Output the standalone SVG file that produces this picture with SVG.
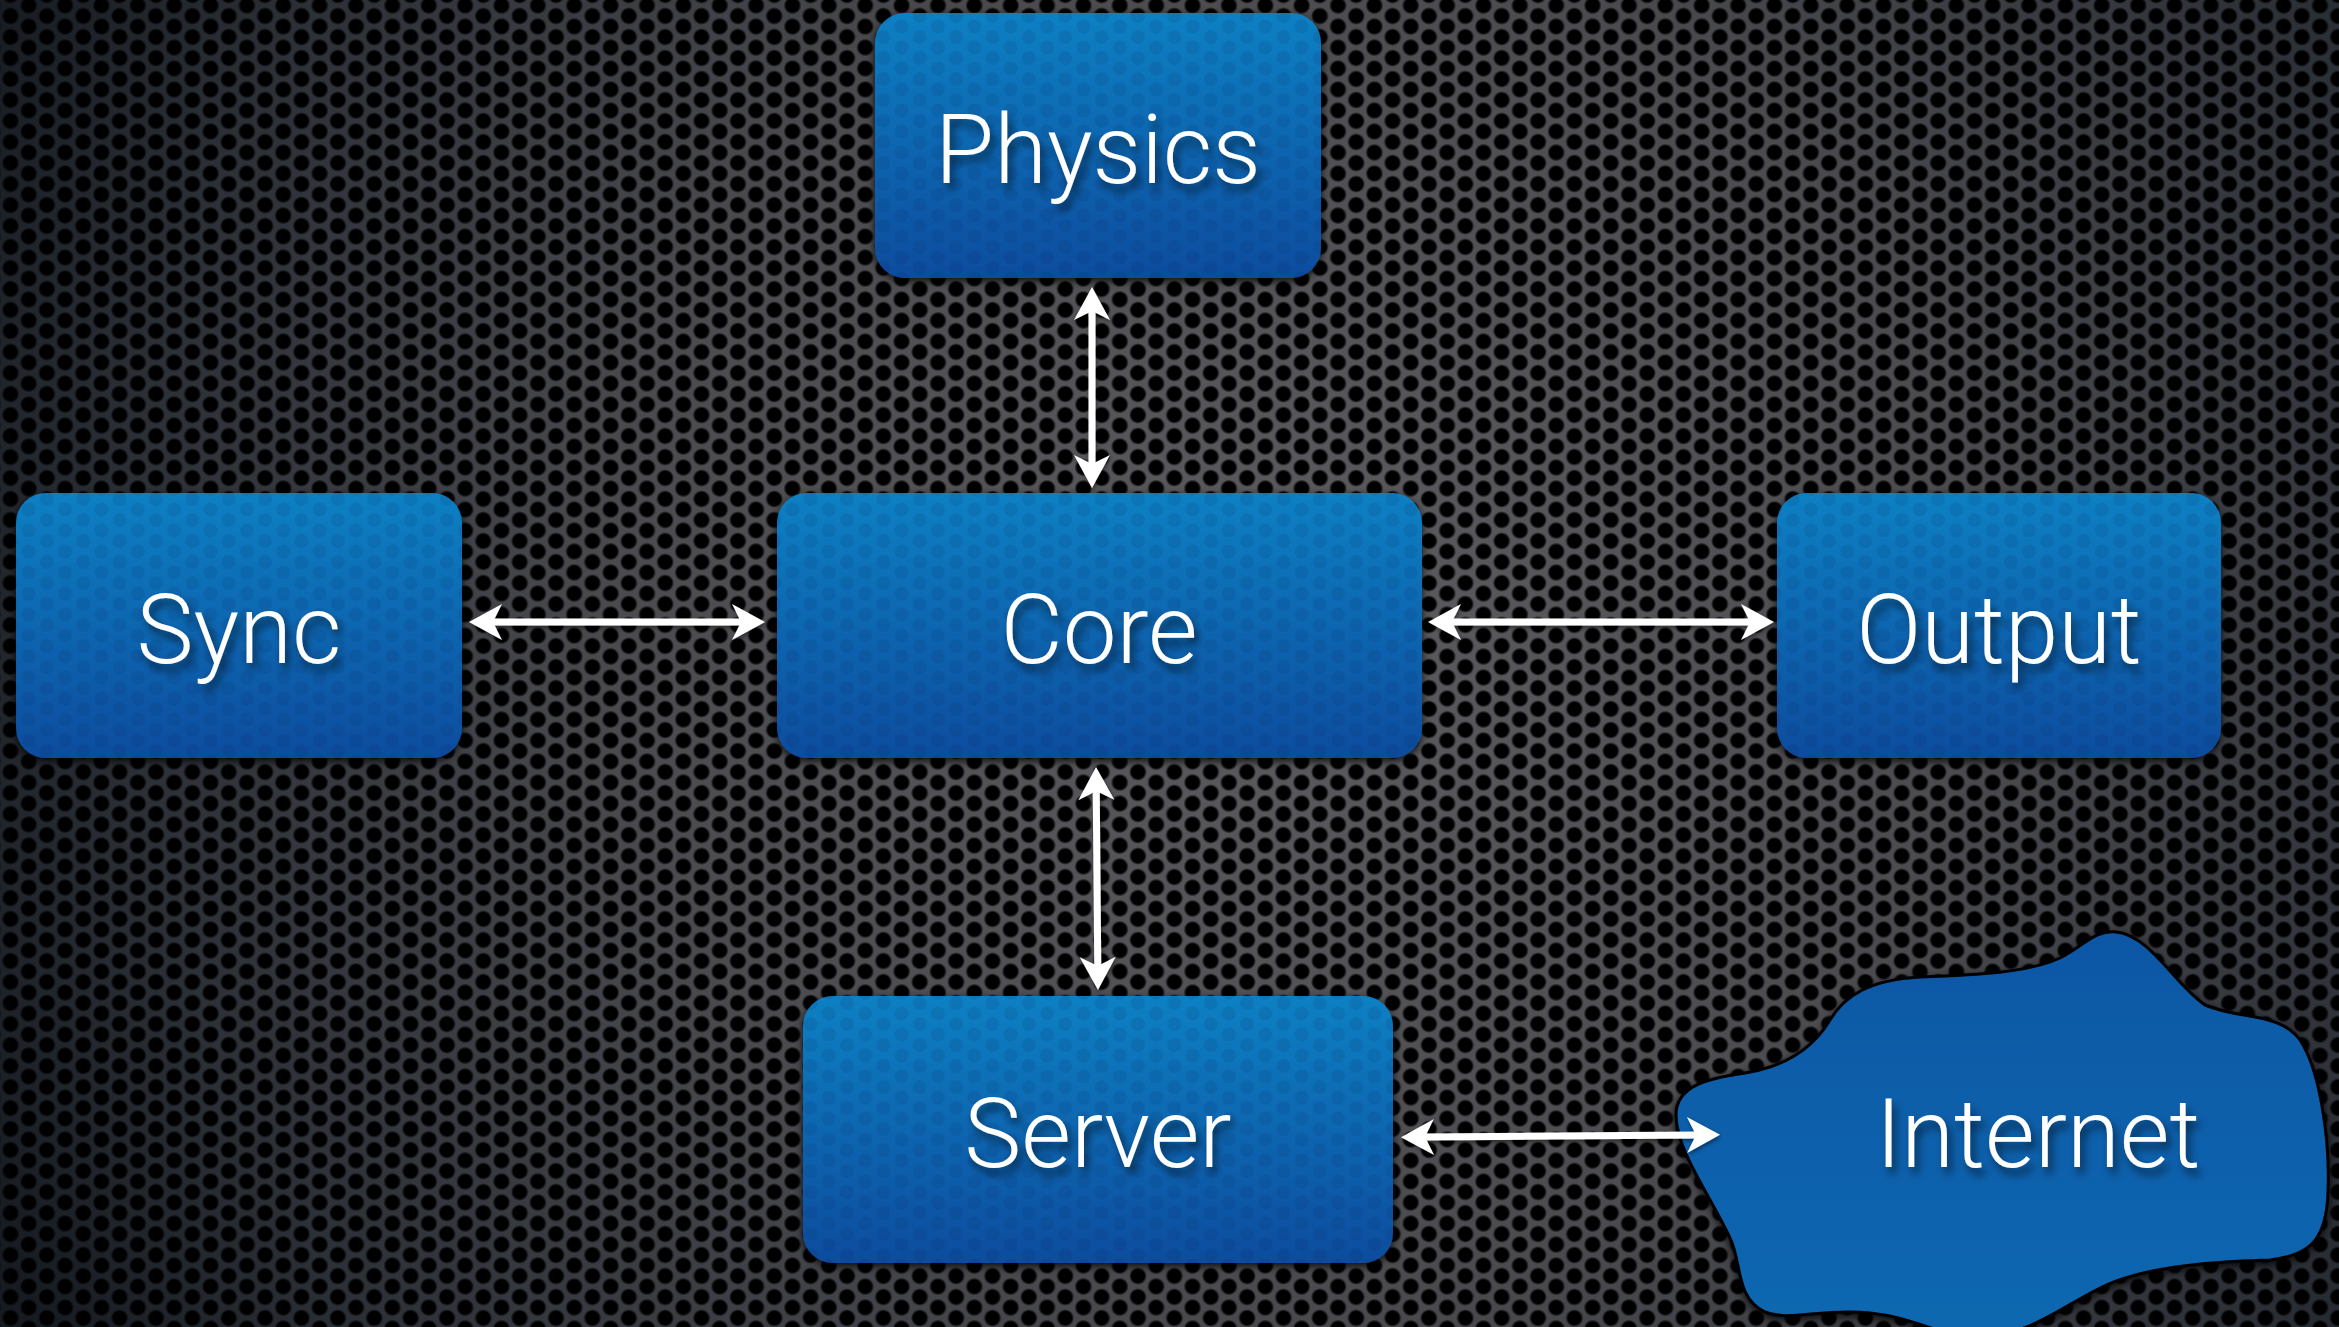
<svg xmlns="http://www.w3.org/2000/svg" width="2339" height="1327" viewBox="0 0 2339 1327">
<style>
.box{fill:url(#boxGrad);filter:url(#boxShadow)}
.boxdots{fill:url(#boxDots);pointer-events:none}
.lbl{font-family:Roboto,"Liberation Sans",Arial,sans-serif;font-weight:300;font-size:96px;fill:#ffffff;text-anchor:middle;filter:url(#textShadow)}
.conn{stroke:#ffffff;stroke-width:7;fill:none;marker-start:url(#head);marker-end:url(#head)}
</style>
<defs>
<radialGradient id="bgGrad" cx="1300" cy="620" r="1450" gradientUnits="userSpaceOnUse">
<stop offset="0" stop-color="#5c5c60"/>
<stop offset="0.45" stop-color="#4c4c50"/>
<stop offset="0.8" stop-color="#2c3037"/>
<stop offset="1" stop-color="#161b22"/>
</radialGradient>
<radialGradient id="holeGrad">
<stop offset="0" stop-color="#000"/>
<stop offset="0.72" stop-color="#000"/>
<stop offset="1" stop-color="#000" stop-opacity="0"/>
</radialGradient>
<pattern id="holes" patternUnits="userSpaceOnUse" x="10.5" y="16" width="36.37" height="21">
<circle cx="0" cy="0" r="9" fill="url(#holeGrad)"/>
<circle cx="36.37" cy="0" r="9" fill="url(#holeGrad)"/>
<circle cx="0" cy="21" r="9" fill="url(#holeGrad)"/>
<circle cx="36.37" cy="21" r="9" fill="url(#holeGrad)"/>
<circle cx="18.185" cy="10.5" r="9" fill="url(#holeGrad)"/>
</pattern>
<pattern id="boxDots" patternUnits="userSpaceOnUse" x="10.5" y="16" width="36.37" height="21">
<circle cx="0" cy="0" r="7" fill="#00214f" fill-opacity="0.1"/>
<circle cx="36.37" cy="0" r="7" fill="#00214f" fill-opacity="0.1"/>
<circle cx="0" cy="21" r="7" fill="#00214f" fill-opacity="0.1"/>
<circle cx="36.37" cy="21" r="7" fill="#00214f" fill-opacity="0.1"/>
<circle cx="18.185" cy="10.5" r="7" fill="#00214f" fill-opacity="0.1"/>
</pattern>
<linearGradient id="boxGrad" x1="0" y1="0" x2="0" y2="1">
<stop offset="0" stop-color="#0a80c3"/>
<stop offset="1" stop-color="#0a4c9e"/>
</linearGradient>
<linearGradient id="cloudGrad" x1="0" y1="0" x2="0" y2="1">
<stop offset="0" stop-color="#0b57a5"/>
<stop offset="1" stop-color="#0b68b1"/>
</linearGradient>
<filter id="boxShadow" x="-10%" y="-10%" width="120%" height="125%">
<feDropShadow dx="0" dy="3" stdDeviation="4" flood-color="#000" flood-opacity="0.85"/>
</filter>
<filter id="textShadow" x="-10%" y="-20%" width="125%" height="150%">
<feDropShadow dx="4" dy="7" stdDeviation="4" flood-color="#000" flood-opacity="0.55"/>
</filter>
<filter id="arrowShadow" x="-20%" y="-20%" width="140%" height="140%">
<feDropShadow dx="1" dy="2" stdDeviation="2" flood-color="#000" flood-opacity="0.5"/>
</filter>
<marker id="head" markerUnits="userSpaceOnUse" viewBox="-14 -20 40 40" markerWidth="40" markerHeight="40" refX="0" refY="0" orient="auto-start-reverse">
<path d="M20,0 L-13,-18 L-4,0 L-13,18 Z" fill="#ffffff"/>
</marker>
</defs>

<g id="background">
<rect x="0" y="0" width="2339" height="1327" fill="url(#bgGrad)"/>
<rect x="0" y="0" width="2339" height="1327" fill="url(#holes)"/>
</g>

<g id="node-physics">
<rect class="box" x="875" y="13" width="446" height="265" rx="30"/>
<rect class="boxdots" x="875" y="13" width="446" height="265" rx="30"/>
<text class="lbl" x="1098" y="183">Physics</text>
</g>

<g id="node-sync">
<rect class="box" x="16" y="493" width="446" height="265" rx="30"/>
<rect class="boxdots" x="16" y="493" width="446" height="265" rx="30"/>
<text class="lbl" x="239" y="663">Sync</text>
</g>

<g id="node-core">
<rect class="box" x="777" y="493" width="645" height="265" rx="30"/>
<rect class="boxdots" x="777" y="493" width="645" height="265" rx="30"/>
<text class="lbl" x="1099" y="663">Core</text>
</g>

<g id="node-output">
<rect class="box" x="1777" y="493" width="444" height="265" rx="30"/>
<rect class="boxdots" x="1777" y="493" width="444" height="265" rx="30"/>
<text class="lbl" x="1999" y="663">Output</text>
</g>

<g id="node-server">
<rect class="box" x="803" y="996" width="590" height="267" rx="30"/>
<rect class="boxdots" x="803" y="996" width="590" height="267" rx="30"/>
<text class="lbl" x="1098" y="1167">Server</text>
</g>

<g id="node-internet">
<path d="M2116,932 C2150,935 2175,985 2205,1005 C2240,1020 2280,1012 2300,1040 C2320,1070 2330,1140 2328,1190 C2327,1240 2310,1255 2270,1260 C2200,1262 2140,1268 2100,1288 C2060,1308 2030,1335 1980,1337 C1940,1338 1920,1318 1870,1313 C1820,1308 1790,1322 1765,1312 C1735,1298 1742,1262 1730,1238 C1710,1195 1676,1150 1676,1115 C1676,1085 1710,1078 1745,1073 C1790,1066 1815,1045 1830,1020 C1845,995 1870,980 1920,977 C1980,975 2030,972 2060,958 C2085,945 2095,930 2116,932 Z" fill="url(#cloudGrad)" stroke="#000" stroke-width="3" filter="url(#boxShadow)"/>
<text class="lbl" x="2038" y="1167">Internet</text>
</g>

<g id="connectors" filter="url(#arrowShadow)">
<path class="conn" d="M1092,307 L1092,468"/>
<path class="conn" d="M489,622 L745,622"/>
<path class="conn" d="M1448,622 L1754,622"/>
<path class="conn" d="M1096.2,787 L1097.8,970"/>
<path class="conn" d="M1421,1137 L1700,1135"/>
</g>
</svg>
